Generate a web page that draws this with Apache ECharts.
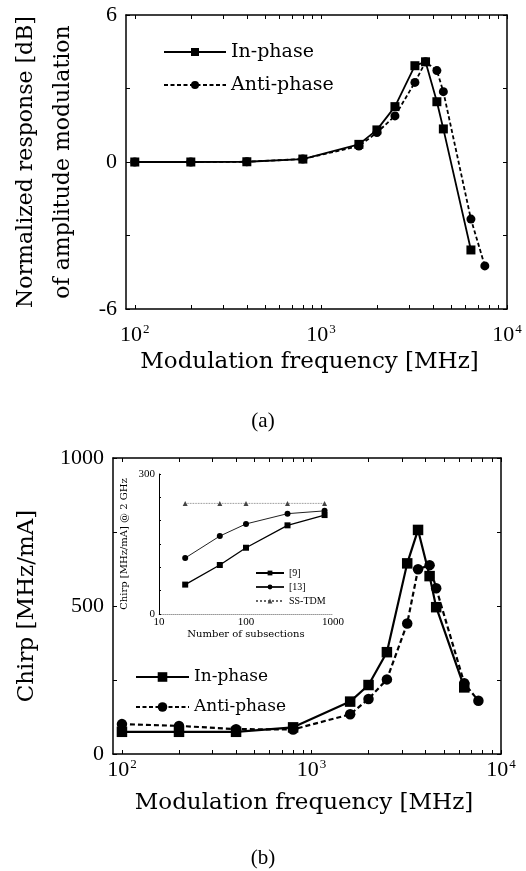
<!DOCTYPE html>
<html><head><meta charset="utf-8">
<script src="https://cdn.jsdelivr.net/npm/echarts@6/dist/echarts.min.js"></script>
<style>html,body{margin:0;padding:0;background:#fff}#c{width:526px;height:871px}</style>
</head><body><div id="c"></div>
<script>
// ---- data ----
const freqInPhase = [100, 200, 400, 800, 1600, 2000, 2500, 3200, 3650, 4200, 4550, 6400];
const freqAntiPhase = [100, 200, 400, 800, 1600, 2000, 2500, 3200, 3650, 4200, 4550, 6400, 7600];
const ampInPhase = [0, 0, 0.01, 0.12, 0.72, 1.31, 2.26, 3.93, 4.09, 2.46, 1.35, -3.59];
const ampAntiPhase = [0, 0, 0.01, 0.12, 0.65, 1.2, 1.88, 3.25, 4.09, 3.73, 2.87, -2.33, -4.24];
const chirpInPhase = [75, 75, 75, 90, 177, 233, 344, 644, 757, 601, 496, 225];
const chirpAntiPhase = [101, 95, 84, 83, 134, 186, 252, 441, 624, 638, 560, 239, 180];
const insetSubsections = [20, 50, 100, 300, 800];
const insetRef9 = [63, 105, 142, 190, 212];
const insetRef13 = [120, 167, 193, 215, 221];
const insetSSTDM = [237, 237, 237, 237, 237];
const freqTicks = [100,200,300,400,500,600,700,800,900,1000,2000,3000,4000,5000,6000,7000,8000,9000,10000];
const freqLabels = [100, 1000, 10000];
const ampLabels = [-6, 0, 6];
const chirpLabels = [0, 500, 1000];
const insetXLabels = [10, 100, 1000];
const insetYLabels = [0, 300];
const legendMain = ['In-phase', 'Anti-phase'];
const legendInset = ['[9]', '[13]', 'SS-TDM'];

const zip = (xs, ys) => xs.map((x, i) => [x, ys[i]]);
const serif = 'Liberation Serif';
const wide = 'DejaVu Serif';
const plain = v => String(v);

const chart = echarts.init(document.getElementById('c'), null, {renderer: 'canvas'});

function powLabel(v) {
  const e = Math.round(Math.log10(v));
  return '{b|10}{s|' + e + '}';
}
const powRich = {
  b: {fontFamily: serif, fontSize: 22, color: '#000'},
  s: {fontFamily: serif, fontSize: 13, color: '#000', verticalAlign: 'bottom', padding: [0, 0, 11, 1]}
};

function freqAxis(grid, pos, showLabel, margin, nameProps) {
  return Object.assign({
    type: 'log', gridIndex: grid, position: pos, min: 89.7, max: 10000, logBase: 10,
    axisLine: {show: true, onZero: false, lineStyle: {color: '#000', width: 1.5}},
    axisTick: {show: true, inside: true, length: 4, customValues: freqTicks, lineStyle: {color: '#000', width: 1}},
    axisLabel: showLabel ? {show: true, customValues: freqLabels, formatter: powLabel, rich: powRich, margin: margin} : {show: false},
    splitLine: {show: false}, minorTick: {show: false}
  }, nameProps || {});
}

const option = {
  animation: false,
  backgroundColor: '#fff',
  textStyle: {fontFamily: serif, color: '#000'},
  grid: [
    {left: 122, top: 15, width: 385, height: 294},
    {left: 113, top: 458, width: 388, height: 296},
    {left: 159, top: 474, width: 174, height: 140}
  ],
  xAxis: [
    freqAxis(0, 'bottom', true, 14, {name: 'Modulation frequency [MHz]', nameLocation: 'middle', nameGap: 42,
      nameTextStyle: {fontFamily: wide, fontSize: 23, color: '#000', padding: [0, 14, 0, 0]}}),
    freqAxis(0, 'top', false),
    freqAxis(1, 'bottom', true, 4, {name: 'Modulation frequency [MHz]', nameLocation: 'middle', nameGap: 38,
      nameTextStyle: {fontFamily: wide, fontSize: 23, color: '#000', padding: [0, 6, 0, 0]}}),
    freqAxis(1, 'top', false),
    {
      type: 'log', gridIndex: 2, position: 'bottom', min: 10, max: 1000, logBase: 10,
      axisLine: {show: true, onZero: false, lineStyle: {color: '#999', width: 1, type: 'dotted'}},
      axisTick: {show: false},
      axisLabel: {show: true, customValues: insetXLabels, formatter: plain, fontFamily: serif, fontSize: 11, color: '#000', margin: 3},
      splitLine: {show: false},
      name: 'Number of subsections', nameLocation: 'middle', nameGap: 15,
      nameTextStyle: {fontFamily: wide, fontSize: 10, color: '#000'}
    }
  ],
  yAxis: [
    {
      type: 'value', gridIndex: 0, position: 'left', min: -6, max: 6, interval: 3,
      axisLine: {show: true, onZero: false, lineStyle: {color: '#000', width: 1.5}},
      axisTick: {show: true, inside: true, length: 4, lineStyle: {color: '#000'}},
      axisLabel: {customValues: ampLabels, formatter: plain, fontFamily: serif, fontSize: 22, color: '#000', margin: 9},
      splitLine: {show: false},
      name: 'Normalized response [dB]\nof amplitude modulation', nameLocation: 'middle', nameGap: 44,
      nameTextStyle: {fontFamily: wide, fontSize: 22, color: '#000', lineHeight: 37}
    },
    {
      type: 'value', gridIndex: 0, position: 'right', min: -6, max: 6, interval: 3,
      axisLine: {show: true, onZero: false, lineStyle: {color: '#000', width: 1.5}},
      axisTick: {show: true, inside: true, length: 4, lineStyle: {color: '#000'}},
      axisLabel: {show: false}, splitLine: {show: false}
    },
    {
      type: 'value', gridIndex: 1, position: 'left', min: 0, max: 1000, interval: 250,
      axisLine: {show: true, onZero: false, lineStyle: {color: '#000', width: 1.5}},
      axisTick: {show: true, inside: true, length: 4, lineStyle: {color: '#000'}},
      axisLabel: {customValues: chirpLabels, formatter: plain, fontFamily: serif, fontSize: 22, color: '#000', margin: 9},
      splitLine: {show: false},
      name: 'Chirp [MHz/mA]', nameLocation: 'middle', nameGap: 74,
      nameTextStyle: {fontFamily: wide, fontSize: 23, color: '#000'}
    },
    {
      type: 'value', gridIndex: 1, position: 'right', min: 0, max: 1000, interval: 250,
      axisLine: {show: true, onZero: false, lineStyle: {color: '#000', width: 1.5}},
      axisTick: {show: true, inside: true, length: 4, lineStyle: {color: '#000'}},
      axisLabel: {show: false}, splitLine: {show: false}
    },
    {
      type: 'value', gridIndex: 2, position: 'left', min: 0, max: 300, interval: 50,
      axisLine: {show: true, onZero: false, lineStyle: {color: '#000', width: 1}},
      axisTick: {show: true, inside: true, length: 2, lineStyle: {color: '#000'}},
      axisLabel: {customValues: insetYLabels, formatter: plain, fontFamily: serif, fontSize: 11, color: '#000', margin: 4},
      splitLine: {show: false},
      name: 'Chirp [MHz/mA] @ 2 GHz', nameLocation: 'middle', nameGap: 30,
      nameTextStyle: {fontFamily: wide, fontSize: 10, color: '#000'}
    }
  ],
  legend: [
    {
      data: legendMain, orient: 'vertical', left: 158, top: 37, itemWidth: 62, itemHeight: 10, itemGap: 13,
      textStyle: {fontFamily: wide, fontSize: 19, color: '#000', lineHeight: 20}, selectedMode: false
    },
    {
      data: legendMain, orient: 'vertical', left: 130, top: 663, itemWidth: 53, itemHeight: 12, itemGap: 12,
      textStyle: {fontFamily: wide, fontSize: 17, color: '#000', lineHeight: 18}, selectedMode: false
    },
    {
      data: legendInset, orient: 'vertical', left: 250, top: 563, itemWidth: 28, itemHeight: 6, itemGap: 4,
      textStyle: {fontFamily: serif, fontSize: 10, color: '#000', lineHeight: 10}, selectedMode: false
    }
  ],
  series: [
    {
      name: 'In-phase', type: 'line', xAxisIndex: 0, yAxisIndex: 0, data: zip(freqInPhase, ampInPhase),
      symbol: 'rect', symbolSize: 9, itemStyle: {color: '#000'}, lineStyle: {color: '#000', width: 1.8}, z: 3
    },
    {
      name: 'Anti-phase', type: 'line', xAxisIndex: 0, yAxisIndex: 0, data: zip(freqAntiPhase, ampAntiPhase),
      symbol: 'circle', symbolSize: 9, itemStyle: {color: '#000'}, lineStyle: {color: '#000', width: 1.8, type: [4, 2.5]}, z: 4
    },
    {
      name: 'In-phase', type: 'line', xAxisIndex: 2, yAxisIndex: 2, data: zip(freqInPhase, chirpInPhase),
      symbol: 'rect', symbolSize: 10.5, itemStyle: {color: '#000'}, lineStyle: {color: '#000', width: 2.2}, z: 3
    },
    {
      name: 'Anti-phase', type: 'line', xAxisIndex: 2, yAxisIndex: 2, data: zip(freqAntiPhase, chirpAntiPhase),
      symbol: 'circle', symbolSize: 10.5, itemStyle: {color: '#000'}, lineStyle: {color: '#000', width: 2.2, type: [5, 3]}, z: 4
    },
    {
      name: '[9]', type: 'line', xAxisIndex: 4, yAxisIndex: 4, data: zip(insetSubsections, insetRef9),
      symbol: 'rect', symbolSize: 6, itemStyle: {color: '#000'}, lineStyle: {color: '#000', width: 1.3}
    },
    {
      name: '[13]', type: 'line', xAxisIndex: 4, yAxisIndex: 4, data: zip(insetSubsections, insetRef13),
      symbol: 'circle', symbolSize: 6, itemStyle: {color: '#000'}, lineStyle: {color: '#222', width: 1}
    },
    {
      name: 'SS-TDM', type: 'line', xAxisIndex: 4, yAxisIndex: 4, data: zip(insetSubsections, insetSSTDM),
      symbol: 'triangle', symbolSize: 5, itemStyle: {color: '#444'}, lineStyle: {color: '#666', width: 0.8, type: 'dotted'}
    }
  ],
  graphic: [
    {type: 'text', left: 'center', top: 411, style: {text: '(a)', fontFamily: serif, fontSize: 21, fill: '#000'}},
    {type: 'text', left: 'center', top: 848, style: {text: '(b)', fontFamily: serif, fontSize: 21, fill: '#000'}}
  ]
};
chart.setOption(option);
</script>
</body></html>
